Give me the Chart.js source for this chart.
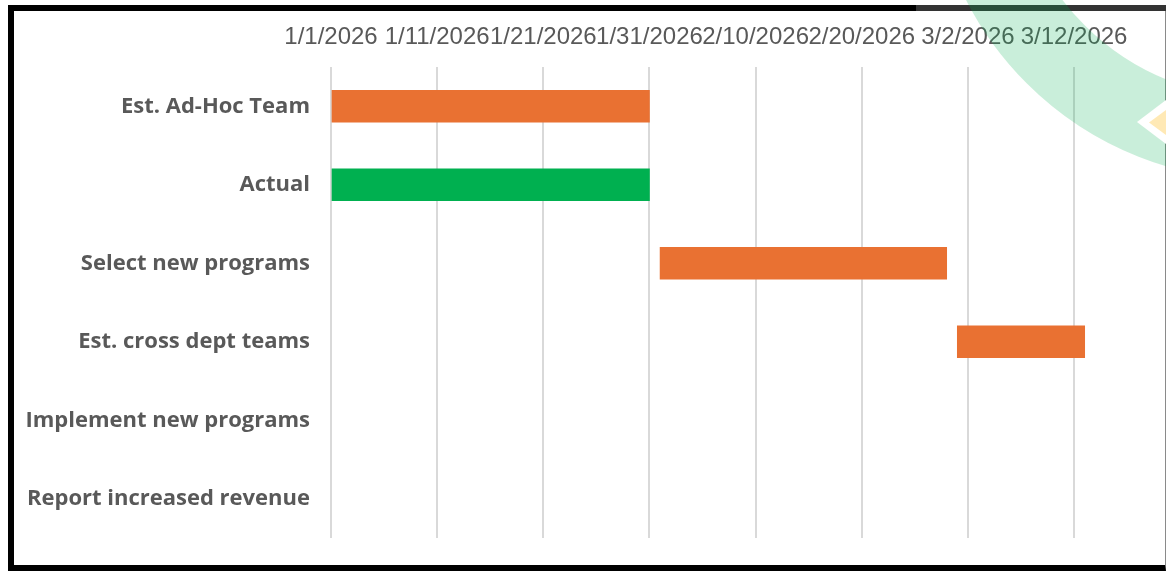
<!DOCTYPE html>
<html lang="en">
<head>
  <meta charset="UTF-8">
  <title>Project timeline</title>
  <script src="https://cdn.jsdelivr.net/npm/chart.js"></script>
  <style>
    html, body { margin: 0; padding: 0; background: #fff; overflow: hidden; }
    #wrap { position: absolute; left: 0; top: 0; width: 1166px; height: 571px; }
    #frame {
      position: absolute; left: 8px; top: 5px; width: 1151px; height: 554px;
      border-left: 6px solid #000; border-top: 6px solid #000; border-bottom: 6px solid #000;
      border-right: 1px solid #8a8a8a; pointer-events: none;
    }
    #topRight { position: absolute; left: 916px; top: 5px; width: 250px; height: 6px; background: #333; }
    #arc {
      position: absolute; left: 930px; top: -480px; width: 660px; height: 660px; box-sizing: border-box;
      border: 82px solid rgba(0, 176, 80, 0.21); border-radius: 50%; pointer-events: none;
    }
    #notch {
      position: absolute; left: 1137px; top: 100px; width: 29px; height: 44px; background: #fff;
      clip-path: polygon(0 50%, 100% 0, 100% 100%);
    }
    #notchFill {
      position: absolute; left: 1149px; top: 110px; width: 17px; height: 25px; background: #ffe9b5;
      clip-path: polygon(0 50%, 100% 0, 100% 100%);
    }
  </style>
</head>
<body>
  <div id="wrap"><canvas id="ganttChart"></canvas></div>
  <div id="frame"></div>
  <div id="topRight"></div>
  <div id="arc"></div>
  <div id="notch"></div>
  <div id="notchFill"></div>
  <script>
    const tasks = ['Est. Ad-Hoc Team', 'Actual', 'Select new programs', 'Est. cross dept teams',
      'Implement new programs', 'Report increased revenue'];
    const taskStart = ['1/1/2026', '1/1/2026', '2/1/2026', '3/1/2026', null, null];
    const taskEnd = ['1/31/2026', '1/31/2026', '2/28/2026', '3/13/2026', null, null];
    const barColors = ['#E97132', '#00B050', '#E97132', '#E97132', '#E97132', '#E97132'];
    const tickLabels = ['1/1/2026', '1/11/2026', '1/21/2026', '1/31/2026', '2/10/2026',
      '2/20/2026', '3/2/2026', '3/12/2026'];

    // dates -> days since 1/1/2026
    function toDays(s) {
      const [m, d, y] = s.split('/').map(Number);
      return (Date.UTC(y, m - 1, d) - Date.UTC(2026, 0, 1)) / 86400000;
    }

    const bars = tasks.map((_, i) => taskStart[i] ? [toDays(taskStart[i]), toDays(taskEnd[i])] : null);
    const tickDays = tickLabels.map(toDays);

    new Chart(document.getElementById('ganttChart'), {
      type: 'bar',
      data: {
        labels: tasks,
        datasets: [{
          data: bars,
          backgroundColor: barColors,
          borderWidth: 0,
          barThickness: 32
        }]
      },
      options: {
        indexAxis: 'y',
        responsive: true,
        maintainAspectRatio: false,
        animation: false,
        layout: { padding: { left: 0, top: 0, right: 7, bottom: 33 } },
        plugins: { legend: { display: false }, tooltip: { enabled: false } },
        scales: {
          x: {
            position: 'top',
            min: 0,
            max: 78,
            afterBuildTicks: scale => { scale.ticks = tickDays.map(v => ({ value: v })); },
            afterFit: scale => { scale.height = 67; },
            grid: { color: '#d9d9d9', lineWidth: 2, drawTicks: false },
            border: { display: false },
            ticks: {
              autoSkip: false,
              maxRotation: 0,
              padding: 15,
              color: '#595959',
              font: { family: 'Liberation Sans', size: 24 },
              callback: (value, index) => tickLabels[index]
            }
          },
          y: {
            afterFit: scale => { scale.width = 331; },
            grid: { display: false, drawTicks: false },
            border: { display: false },
            ticks: {
              padding: 21,
              color: '#595959',
              font: { family: 'Open Sans', size: 22, weight: 'bold', lineHeight: 1.0 }
            }
          }
        }
      }
    });
  </script>
</body>
</html>
